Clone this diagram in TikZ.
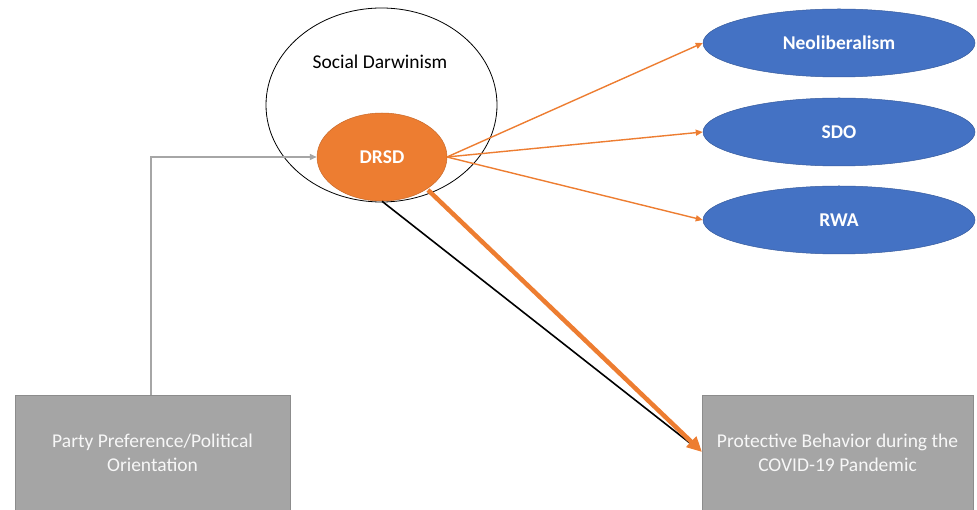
\documentclass[tikz,border=0pt]{standalone}
\usepackage{fontspec}
\setmainfont{Carlito}
\usetikzlibrary{shapes.geometric,arrows.meta}

\definecolor{accentorange}{HTML}{ED7D31}
\definecolor{accentblue}{HTML}{4472C4}
\definecolor{boxgray}{HTML}{A5A5A5}
\definecolor{boxedge}{HTML}{8C8C8C}
\definecolor{linkgray}{HTML}{A6A6A6}

\newcommand{\labelsize}{\fontsize{19.5}{24}\selectfont}

\tikzset{
  txt/.style={font=\labelsize},
  outer/.style={ellipse, draw=black, line width=0.8pt, fill=white,
    minimum width=231pt, minimum height=194pt, inner sep=0pt},
  core/.style={ellipse, fill=accentorange, draw=accentorange!85!black, line width=0.5pt,
    minimum width=130pt, minimum height=88pt, inner sep=0pt,
    text=white, font=\labelsize\bfseries},
  construct/.style={ellipse, fill=accentblue, draw=accentblue!80!black, line width=0.5pt,
    minimum width=272pt, minimum height=68pt, inner sep=0pt,
    text=white, font=\labelsize\bfseries},
  graybox/.style={rectangle, fill=boxgray, draw=boxedge, line width=0.8pt,
    inner sep=0pt},
  boxtext/.style={inner sep=0pt, text=white!97!black, align=center,
    font=\labelsize},
  thinarrow/.style={draw=accentorange, line width=1.4pt,
    -{Triangle[length=7pt,width=6pt]}},
  thickarrow/.style={draw=accentorange, line width=4.5pt,
    -{Triangle[length=15pt,width=14pt]}},
  grayarrow/.style={draw=linkgray, line width=1.4pt,
    -{Triangle[length=7pt,width=6pt]}},
}

\begin{document}
\begin{tikzpicture}[x=1pt,y=-1pt]
\useasboundingbox (0,0) rectangle (977,510);
\clip (0,0) rectangle (977,510);

% framing construct and its core
\node[outer] (sd) at (381.5,105) {};
\node[txt] (sdlabel) at (380,62) {Social Darwinism};
\node[core] (drsd) at (382,157) {DRSD};

% ideological constructs
\node[construct] (neo) at (839,43) {Neoliberalism};
\node[construct] (sdo) at (839,132) {SDO};
\node[construct] (rwa) at (839,220) {RWA};

% predictor and outcome boxes
\node[graybox, minimum width=275pt, minimum height=130pt, anchor=north west]
  (party) at (15,395) {};
\node[boxtext] (partytext) at (152.5,453)
  {Party Preference/Political\\Orientation};
\node[graybox, minimum width=271pt, minimum height=130pt, anchor=north west]
  (protect) at (702,395) {};
\node[boxtext] (protecttext) at (837.5,453)
  {Protective Behavior during the\\COVID-19 Pandemic};

% connectors
\coordinate (split) at (151,395);
\draw[grayarrow] (split) |- (drsd.west);

\coordinate (drsdout) at (447,157);
\draw[thinarrow] (drsdout) -- (neo.west);
\draw[thinarrow] (drsdout) -- (sdo.west);
\draw[thinarrow] (drsdout) -- (rwa.west);

% direct path, ending beneath the head of the mediated path
\coordinate (blackend) at (695,447);
\draw[black, line width=1.6pt] (drsd.south) -- (blackend);

\coordinate (thickstart) at (428,190);
\coordinate (thickend) at (702,452);
\draw[thickarrow] (thickstart) -- (thickend);
\end{tikzpicture}
\end{document}
